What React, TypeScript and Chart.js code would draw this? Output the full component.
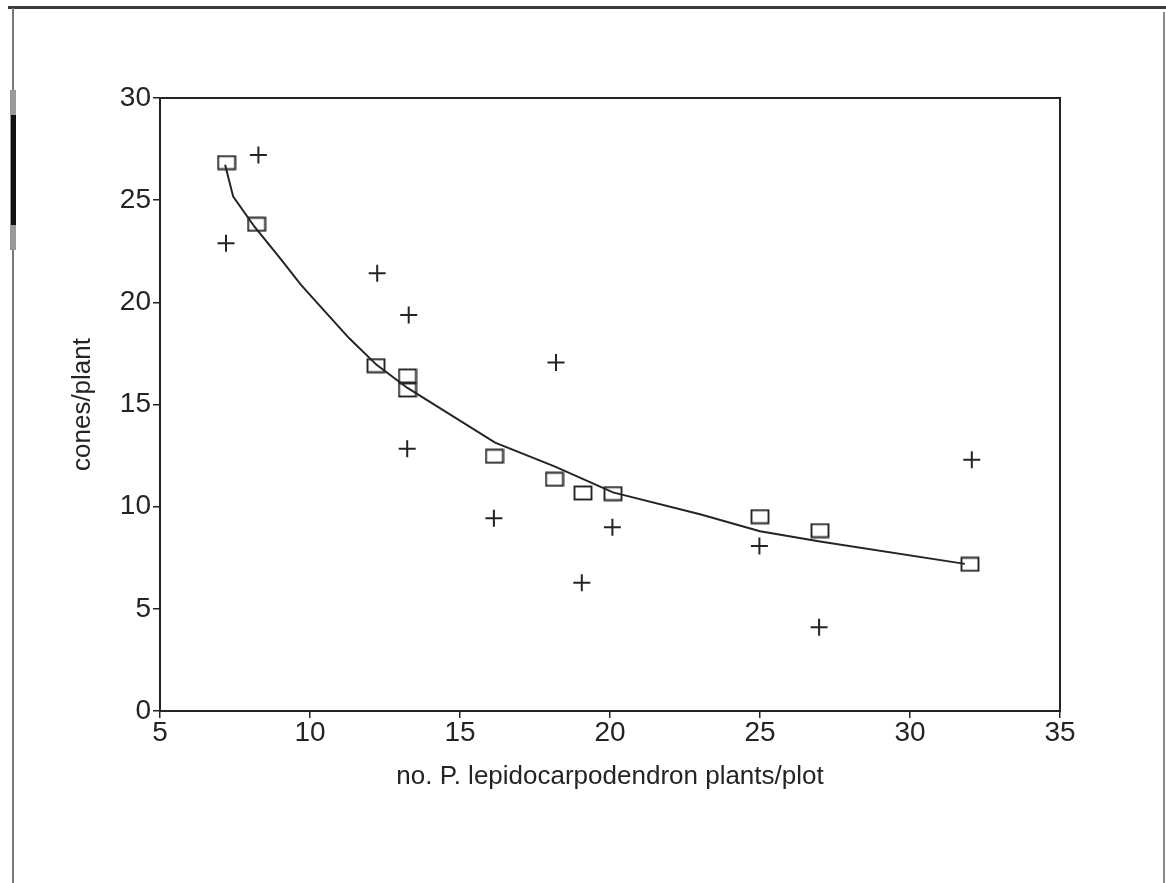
import React, { useEffect, useRef } from "react";
import { Chart, registerables } from "chart.js";

Chart.register(...registerables);

// Observed means (open squares)
const squareX = [7.22, 8.22, 12.2, 13.25, 13.25, 16.15, 18.15, 19.1, 20.1, 25.0, 27.0, 32.0];
const squareY = [26.84, 23.82, 16.9, 16.4, 15.71, 12.47, 11.34, 10.67, 10.64, 9.51, 8.83, 7.18];

// Individual plots (plus markers)
const plusX = [8.28, 7.2, 12.24, 13.29, 13.24, 18.2, 16.13, 19.06, 20.08, 24.98, 26.97, 32.06];
const plusY = [27.21, 22.89, 21.42, 19.38, 12.84, 17.05, 9.43, 6.28, 8.99, 8.08, 4.1, 12.29];

// Fitted curve vertices
const curveX = [7.17, 7.44, 8.15, 9.0, 9.7, 10.45, 11.3, 12.22, 13.25, 16.17, 18.15, 20.1, 23.0, 25.0, 27.0, 31.83];
const curveY = [26.73, 25.17, 23.7, 22.16, 20.85, 19.63, 18.25, 16.94, 15.81, 13.13, 11.97, 10.7, 9.63, 8.8, 8.29, 7.2];

const xTitle = "no. P. lepidocarpodendron plants/plot";
const yTitle = "cones/plant";
const xMin = 5, xMax = 35, xStep = 5;
const yMin = 0, yMax = 30, yStep = 5;

const FONT = "'Liberation Sans', Arial, Helvetica, sans-serif";
const INK = "#242424";

function makeSquare(): HTMLCanvasElement {
  const c = document.createElement("canvas");
  c.width = 20;
  c.height = 16;
  const g = c.getContext("2d")!;
  g.strokeStyle = INK;
  g.lineWidth = 1.9;
  g.strokeRect(1.5, 1.5, 17, 13);
  return c;
}

const boxPlugin = {
  id: "plotBox",
  afterDatasetsDraw(chart: any) {
    const { ctx, chartArea } = chart;
    const { left, top, right, bottom } = chartArea;
    ctx.save();
    ctx.strokeStyle = INK;
    ctx.lineWidth = 2;
    ctx.strokeRect(left, top, right - left, bottom - top);
    ctx.restore();
  },
};

export default function App() {
  const ref = useRef<HTMLCanvasElement | null>(null);

  useEffect(() => {
    if (!ref.current) return;
    const sq = makeSquare();
    const chart = new Chart(ref.current, {
      type: "scatter",
      data: {
        datasets: [
          {
            type: "line",
            label: "fit",
            data: curveX.map((x, i) => ({ x, y: curveY[i] })),
            borderColor: INK,
            borderWidth: 2,
            pointRadius: 0,
            tension: 0,
            fill: false,
          } as any,
          {
            label: "means",
            data: squareX.map((x, i) => ({ x, y: squareY[i] })),
            pointStyle: sq as any,
            pointRadius: 8,
            backgroundColor: "rgba(0,0,0,0)",
            borderColor: INK,
          },
          {
            label: "plots",
            data: plusX.map((x, i) => ({ x, y: plusY[i] })),
            pointStyle: "cross",
            pointRadius: 8.5,
            borderWidth: 2,
            borderColor: INK,
            backgroundColor: INK,
          },
        ],
      },
      options: {
        responsive: false,
        animation: false,
        events: [],
        layout: { padding: { left: 0, top: 98, right: 106, bottom: 0 } },
        plugins: {
          legend: { display: false },
          tooltip: { enabled: false },
          title: { display: false },
        },
        scales: {
          x: {
            type: "linear",
            position: "bottom",
            min: xMin,
            max: xMax,
            afterFit: (s: any) => {
              s.height = 883 - 711;
            },
            ticks: {
              stepSize: xStep,
              color: INK,
              padding: -2,
              font: { family: FONT, size: 28 },
            },
            grid: {
              display: true,
              drawOnChartArea: false,
              drawTicks: true,
              tickLength: 7,
              color: INK,
              tickColor: INK,
              lineWidth: 1.5,
            },
            border: { display: false },
            title: {
              display: true,
              text: xTitle,
              color: INK,
              font: { family: FONT, size: 26 },
              padding: { top: 0, bottom: 91 },
            },
          },
          y: {
            type: "linear",
            position: "left",
            min: yMin,
            max: yMax,
            afterFit: (s: any) => {
              s.width = 160;
            },
            ticks: {
              stepSize: yStep,
              color: INK,
              padding: 2,
              font: { family: FONT, size: 28 },
            },
            grid: {
              display: true,
              drawOnChartArea: false,
              drawTicks: true,
              tickLength: 7,
              color: INK,
              tickColor: INK,
              lineWidth: 1.5,
            },
            border: { display: false },
            title: {
              display: true,
              text: yTitle,
              color: INK,
              font: { family: FONT, size: 26 },
              padding: { top: 67, bottom: 0 },
            },
          },
        },
      },
      plugins: [boxPlugin],
    } as any);
    return () => chart.destroy();
  }, []);

  return (
    <div style={{ position: "absolute", left: 0, top: 0, width: 1166, height: 883, background: "#fff", overflow: "hidden" }}>
      {/* scanned page frame */}
      <div style={{ position: "absolute", left: 8, top: 6, width: 1158, height: 3, background: "#3a3a3a" }} />
      <div style={{ position: "absolute", left: 12, top: 8, width: 2, height: 875, background: "#777" }} />
      <div style={{ position: "absolute", left: 10, top: 90, width: 6, height: 160, background: "#9a9a9a" }} />
      <div style={{ position: "absolute", left: 11, top: 115, width: 5, height: 110, background: "#111" }} />
      <div style={{ position: "absolute", left: 1163, top: 12, width: 2, height: 871, background: "#8a8a8a" }} />
      <canvas ref={ref} width={1166} height={883} style={{ position: "absolute", left: 0, top: 0, display: "block" }} />
    </div>
  );
}
